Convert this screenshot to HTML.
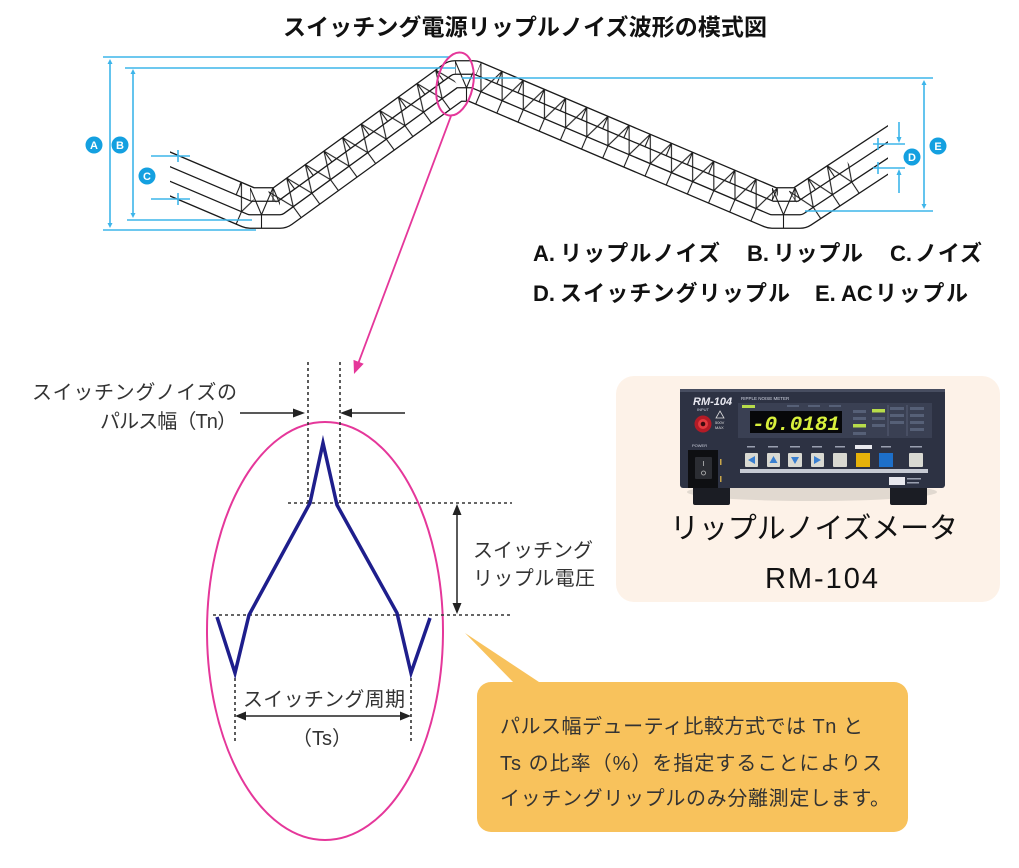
<!DOCTYPE html>
<html><head><meta charset="utf-8">
<style>
html,body{margin:0;padding:0;background:#fff;}
svg{display:block;}
</style></head><body>
<svg width="1019" height="868" viewBox="0 0 1019 868" xmlns="http://www.w3.org/2000/svg">
<defs>
 <clipPath id="wc"><rect x="170" y="0" width="718" height="300"/></clipPath>
 <mask id="band" maskUnits="userSpaceOnUse" x="0" y="0" width="1019" height="300">
   <path d="M140,161.25 L250,208 L280,208 L455,81 L473,81 L772,208 L800,208 L920,128.9" fill="none" stroke="#fff" stroke-width="40.5" stroke-linejoin="round"/>
 </mask>
 <pattern id="hatch" patternUnits="userSpaceOnUse" x="0" y="-20.25" width="23" height="40.5">
   <g stroke="#1a1a1a" stroke-width="1.1" fill="none">
   <polyline points="0,0 11.5,27 23,0"/>
   <line x1="0" y1="0" x2="0" y2="13.5"/>
   <line x1="23" y1="0" x2="23" y2="13.5"/>
   <line x1="11.5" y1="27" x2="11.5" y2="40.5"/>
   </g>
 </pattern>
</defs>

<!-- Title -->
<text x="283" y="35" font-family="'Liberation Sans','Noto Sans CJK JP',sans-serif" font-weight="bold" font-size="23" fill="#111" textLength="484" lengthAdjust="spacing">スイッチング電源リップルノイズ波形の模式図</text>

<!-- Waveform bundle -->
<g clip-path="url(#wc)" fill="none" stroke-linejoin="round">
 <path d="M140,161.25 L250,208 L280,208 L455,81 L473,81 L772,208 L800,208 L920,128.9" stroke="#1a1a1a" stroke-width="41.8"/>
 <path d="M140,161.25 L250,208 L280,208 L455,81 L473,81 L772,208 L800,208 L920,128.9" stroke="#fff" stroke-width="39.2"/>
 <path d="M140,161.25 L250,208 L280,208 L455,81 L473,81 L772,208 L800,208 L920,128.9" stroke="#1a1a1a" stroke-width="14.8"/>
 <path d="M140,161.25 L250,208 L280,208 L455,81 L473,81 L772,208 L800,208 L920,128.9" stroke="#fff" stroke-width="12.2"/>
</g>
<g mask="url(#band)" clip-path="url(#wc)">
 <g transform="translate(170,174) rotate(23.03)"><rect x="68" y="-20.25" width="19" height="40.5" fill="url(#hatch)"/></g>
 <g transform="translate(250,208)"><rect x="0" y="-20.25" width="30" height="40.5" fill="url(#hatch)"/></g>
 <g transform="translate(280,208) rotate(-35.97)"><rect x="0" y="-20.25" width="216" height="40.5" fill="url(#hatch)"/></g>
 <g transform="translate(455,81)"><rect x="0" y="-20.25" width="18" height="40.5" fill="url(#hatch)"/></g>
 <g transform="translate(473,81) rotate(23.01)"><rect x="0" y="-20.25" width="325" height="40.5" fill="url(#hatch)"/></g>
 <g transform="translate(772,208)"><rect x="0" y="-20.25" width="28" height="40.5" fill="url(#hatch)"/></g>
 <g transform="translate(800,208) rotate(-33.39)"><rect x="0" y="-20.25" width="65" height="40.5" fill="url(#hatch)"/></g>
</g>

<!-- Blue dimension lines -->
<g stroke="#3DB5EA" stroke-width="1.6" fill="none">
 <line x1="103" y1="57" x2="449" y2="57"/>
 <line x1="125" y1="68" x2="456" y2="68"/>
 <line x1="103" y1="230" x2="256" y2="230"/>
 <line x1="127" y1="220" x2="252" y2="220"/>
 <line x1="110" y1="62" x2="110" y2="225"/>
 <line x1="133" y1="71" x2="133" y2="216"/>
 <line x1="151" y1="156" x2="190" y2="156"/>
 <line x1="151" y1="199" x2="190" y2="199"/>
 <line x1="178" y1="150" x2="178" y2="162"/>
 <line x1="178" y1="193" x2="178" y2="205"/>
 <line x1="462" y1="78" x2="933" y2="78"/>
 <line x1="805" y1="211" x2="933" y2="211"/>
 <line x1="924" y1="83" x2="924" y2="206"/>
 <line x1="873" y1="144" x2="905" y2="144"/>
 <line x1="873" y1="168" x2="905" y2="168"/>
 <line x1="878" y1="138" x2="878" y2="150"/>
 <line x1="878" y1="162" x2="878" y2="174"/>
 <line x1="899" y1="122" x2="899" y2="139"/>
 <line x1="899" y1="173" x2="899" y2="193"/>
</g>
<g fill="#3DB5EA">
 <path d="M110,59 L107.5,64 L112.5,64 Z"/><path d="M110,228 L107.5,223 L112.5,223 Z"/>
 <path d="M133,69 L130.5,74 L135.5,74 Z"/><path d="M133,218 L130.5,213 L135.5,213 Z"/>
 <path d="M924,80 L921.5,85 L926.5,85 Z"/><path d="M924,209 L921.5,204 L926.5,204 Z"/>
 <path d="M899,143 L896.5,137 L901.5,137 Z"/><path d="M899,169 L896.5,175 L901.5,175 Z"/>
</g>
<g font-family="'Liberation Sans',sans-serif" font-weight="bold" font-size="11" text-anchor="middle" fill="#fff">
 <circle cx="94" cy="145" r="8.5" fill="#14A0E0"/><text x="94" y="149">A</text>
 <circle cx="120" cy="145" r="8.5" fill="#14A0E0"/><text x="120" y="149">B</text>
 <circle cx="147" cy="176" r="8.5" fill="#14A0E0"/><text x="147" y="180">C</text>
 <circle cx="912" cy="157" r="8.5" fill="#14A0E0"/><text x="912" y="161">D</text>
 <circle cx="938" cy="146" r="8.5" fill="#14A0E0"/><text x="938" y="150">E</text>
</g>

<!-- Legend -->
<g font-family="'Liberation Sans','Noto Sans CJK JP',sans-serif" font-weight="bold" font-size="22" fill="#111">
 <text x="533" y="261">A.</text>
 <text x="560" y="261" textLength="160" lengthAdjust="spacing">リップルノイズ</text>
 <text x="747" y="261">B.</text>
 <text x="773" y="261" textLength="90" lengthAdjust="spacing">リップル</text>
 <text x="890" y="261">C.</text>
 <text x="915" y="261" textLength="67" lengthAdjust="spacing">ノイズ</text>
 <text x="533" y="301">D.</text>
 <text x="560" y="301" textLength="230" lengthAdjust="spacing">スイッチングリップル</text>
 <text x="815" y="301">E.</text>
 <text x="841" y="301">AC</text>
 <text x="875" y="301" textLength="93" lengthAdjust="spacing">リップル</text>
</g>

<!-- Pink small ellipse and pointer -->
<ellipse cx="455" cy="84" rx="18" ry="32" transform="rotate(12 455 84)" fill="none" stroke="#E5379A" stroke-width="2"/>
<line x1="451" y1="116" x2="358" y2="364" stroke="#E5379A" stroke-width="1.8"/>
<path d="M354,374 L363.7,363.8 L353.5,359.9 Z" fill="#E5379A"/>

<!-- Lower diagram -->
<ellipse cx="325" cy="631" rx="118" ry="209" fill="none" stroke="#E5379A" stroke-width="2"/>
<g stroke="#333" stroke-width="1.6" stroke-dasharray="3 3" fill="none">
 <line x1="308" y1="362" x2="308" y2="505"/>
 <line x1="340" y1="362" x2="340" y2="505"/>
 <line x1="288" y1="503" x2="512" y2="503"/>
 <line x1="213" y1="615" x2="513" y2="615"/>
 <line x1="235" y1="678" x2="235" y2="742"/>
 <line x1="411" y1="678" x2="411" y2="742"/>
</g>
<polyline points="217,617 235,673 249,615 310,503 323,443 337,505 397,613 411,673 430,618" fill="none" stroke="#1E1E8C" stroke-width="3.5" stroke-linejoin="miter" stroke-miterlimit="6"/>

<g stroke="#222" stroke-width="1.5" fill="none">
 <line x1="240" y1="413" x2="296" y2="413"/>
 <line x1="405" y1="413" x2="349" y2="413"/>
 <line x1="457" y1="512" x2="457" y2="607"/>
 <line x1="243" y1="716" x2="403" y2="716"/>
</g>
<g fill="#222">
 <path d="M305,413 L293,408.5 L293,417.5 Z"/>
 <path d="M340,413 L352,408.5 L352,417.5 Z"/>
 <path d="M457,504 L452.5,515 L461.5,515 Z"/>
 <path d="M457,614 L452.5,603 L461.5,603 Z"/>
 <path d="M235,716 L246,711.5 L246,720.5 Z"/>
 <path d="M411,716 L400,711.5 L400,720.5 Z"/>
</g>

<g font-family="'Liberation Sans','Noto Sans CJK JP',sans-serif" font-size="20" fill="#333">
 <text x="32" y="399" textLength="205" lengthAdjust="spacing">スイッチングノイズの</text>
 <text x="100" y="428" textLength="137" lengthAdjust="spacing">パルス幅（Tn）</text>
 <text x="473" y="557" textLength="120" lengthAdjust="spacing">スイッチング</text>
 <text x="473" y="585" textLength="122" lengthAdjust="spacing">リップル電圧</text>
 <text x="243" y="706" textLength="162" lengthAdjust="spacing">スイッチング周期</text>
 <text x="292" y="745">（Ts）</text>
</g>

<!-- Callout -->
<path d="M465,633 L515,684 L542,684 Z" fill="#F8C25C"/>
<rect x="477" y="682" width="431" height="150" rx="14" fill="#F8C25C"/>
<g font-family="'Liberation Sans','Noto Sans CJK JP',sans-serif" font-size="20" fill="#333">
 <text x="500" y="733" textLength="363" lengthAdjust="spacing">パルス幅デューティ比較方式では Tn と</text>
 <text x="500" y="770" textLength="382" lengthAdjust="spacing">Ts の比率（%）を指定することによりス</text>
 <text x="500" y="805" textLength="390" lengthAdjust="spacing">イッチングリップルのみ分離測定します。</text>
</g>

<!-- Meter panel -->
<rect x="616" y="376" width="384" height="226" rx="18" fill="#FDF2E8"/>
<ellipse cx="812" cy="492" rx="125" ry="9" fill="#cfc8c0" opacity="0.6"/>
<rect x="693" y="484" width="37" height="21" rx="2" fill="#1b1d24"/>
<rect x="890" y="484" width="37" height="21" rx="2" fill="#1b1d24"/>
<rect x="680" y="389" width="265" height="99" rx="3" fill="#2d3243"/>
<rect x="680" y="389" width="265" height="3" fill="#474d60"/>
<text x="693" y="405" font-family="'Liberation Sans',sans-serif" font-style="italic" font-weight="bold" font-size="11" fill="#e8e8f0">RM-104</text>
<text x="741" y="400" font-family="'Liberation Sans',sans-serif" font-size="4.5" fill="#cfd3e0">RIPPLE NOISE METER</text>
<text x="697" y="411" font-family="'Liberation Sans',sans-serif" font-size="4" fill="#cfd3e0">INPUT</text>
<circle cx="703" cy="424" r="8.5" fill="#b31b26"/>
<circle cx="703" cy="424" r="5" fill="#e33a3f"/>
<circle cx="703" cy="424" r="2.3" fill="#3a0b0e"/>
<path d="M720,411 L724,418 L716,418 Z" fill="none" stroke="#ddd" stroke-width="0.8"/>
<text x="715" y="424" font-family="'Liberation Sans',sans-serif" font-size="4" fill="#ddd">500V</text>
<text x="715" y="429" font-family="'Liberation Sans',sans-serif" font-size="4" fill="#ddd">MAX</text>
<rect x="738" y="403" width="194" height="35" fill="#3a4053"/>
<rect x="750" y="411" width="92" height="22" fill="#07080a"/>
<text x="752" y="430" font-family="'Liberation Mono',monospace" font-weight="bold" font-style="italic" font-size="20" fill="#d8f03c" textLength="88" lengthAdjust="spacingAndGlyphs">-0.0181</text>
<rect x="742" y="405" width="13" height="3" fill="#b7dc4a"/>
<rect x="872" y="409" width="13" height="3.5" fill="#b7dc4a"/>
<rect x="853" y="424" width="13" height="3.5" fill="#b7dc4a"/>
<g fill="#566077">
 <rect x="787" y="405" width="12" height="2"/><rect x="808" y="405" width="12" height="2"/><rect x="829" y="405" width="12" height="2"/>
 <rect x="853" y="410" width="13" height="3"/><rect x="853" y="417" width="13" height="3"/><rect x="853" y="432" width="13" height="3"/>
 <rect x="872" y="417" width="13" height="3"/><rect x="872" y="424" width="13" height="3"/>
 <rect x="890" y="407" width="14" height="3"/><rect x="890" y="414" width="14" height="3"/><rect x="890" y="421" width="14" height="3"/>
 <rect x="910" y="407" width="14" height="3"/><rect x="910" y="414" width="14" height="3"/><rect x="910" y="421" width="14" height="3"/><rect x="910" y="428" width="14" height="3"/>
</g>
<line x1="888" y1="405" x2="888" y2="436" stroke="#69728a" stroke-width="0.6"/>
<line x1="907" y1="405" x2="907" y2="436" stroke="#69728a" stroke-width="0.6"/>
<g fill="#9aa0b0">
 <rect x="747" y="446" width="8" height="1.5"/><rect x="768" y="446" width="10" height="1.5"/><rect x="790" y="446" width="10" height="1.5"/><rect x="812" y="446" width="10" height="1.5"/><rect x="835" y="446" width="10" height="1.5"/><rect x="881" y="446" width="10" height="1.5"/><rect x="910" y="446" width="12" height="1.5"/>
</g>
<rect x="855" y="445" width="17" height="4" fill="#e9e9ee"/>
<g fill="#d9d9d2">
 <rect x="745" y="453" width="13" height="14" rx="1"/>
 <rect x="767" y="453" width="13" height="14" rx="1"/>
 <rect x="788" y="453" width="14" height="14" rx="1"/>
 <rect x="811" y="453" width="13" height="14" rx="1"/>
 <rect x="833" y="453" width="14" height="14" rx="1"/>
 <rect x="909" y="453" width="14" height="14" rx="1"/>
</g>
<g fill="#3a7fd0">
 <path d="M748,460 L755,456 L755,464 Z"/>
 <path d="M773.5,456 L777.5,463 L769.5,463 Z"/>
 <path d="M795,464 L799,457 L791,457 Z"/>
 <path d="M821,460 L814,456 L814,464 Z"/>
</g>
<rect x="856" y="453" width="14" height="14" fill="#e6b20a"/>
<rect x="879" y="453" width="14" height="14" fill="#1d6fc9"/>
<rect x="740" y="469" width="188" height="4" fill="#c6cad3"/>
<rect x="688" y="450" width="30" height="38" fill="#0e0f12"/>
<rect x="695" y="457" width="17" height="22" rx="1" fill="#2b2d33"/>
<line x1="703.5" y1="461" x2="703.5" y2="466" stroke="#bbb" stroke-width="0.8"/>
<circle cx="703.5" cy="473" r="2" fill="none" stroke="#bbb" stroke-width="0.8"/>
<text x="692" y="447" font-family="'Liberation Sans',sans-serif" font-size="4" fill="#cfd3e0">POWER</text>
<rect x="720" y="459" width="1.5" height="6" fill="#c9a64a"/>
<rect x="720" y="476" width="1.5" height="6" fill="#c9a64a"/>
<rect x="889" y="477" width="16" height="8" fill="#e8e8ee"/>
<rect x="907" y="478" width="14" height="1.5" fill="#9aa0b0"/>
<rect x="907" y="482" width="12" height="1.5" fill="#9aa0b0"/>

<text x="670" y="538" font-family="'Liberation Sans','Noto Sans CJK JP',sans-serif" font-size="29" fill="#111" textLength="288" lengthAdjust="spacing">リップルノイズメータ</text>
<text x="765" y="588" font-family="'Liberation Sans',sans-serif" font-size="29" fill="#111" textLength="113" lengthAdjust="spacing">RM-104</text>
</svg>
</body></html>
